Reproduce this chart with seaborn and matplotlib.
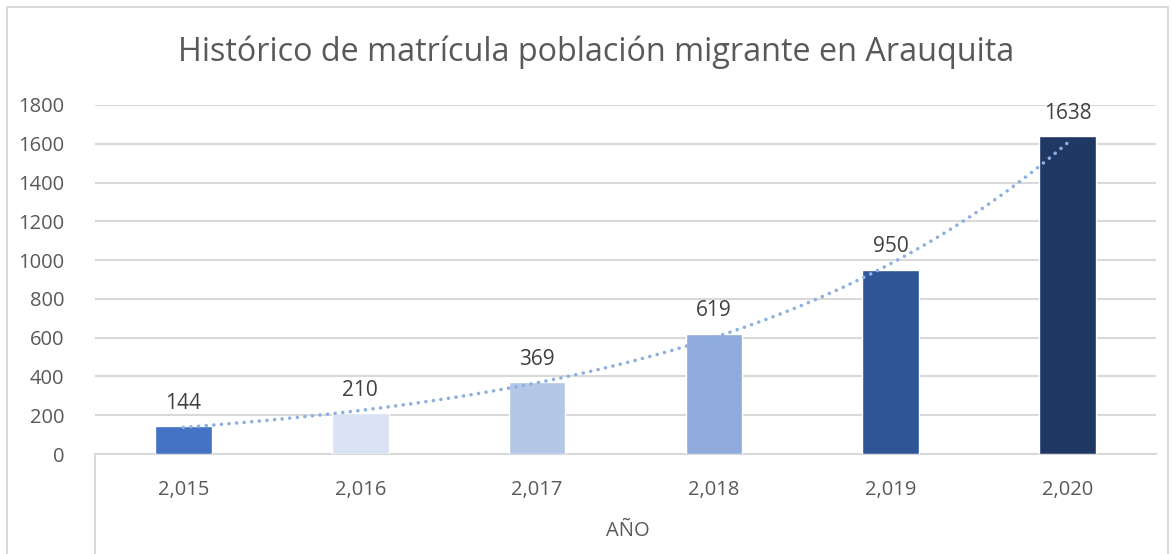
import numpy as np
import pandas as pd
import matplotlib
matplotlib.use("Agg")
import matplotlib.pyplot as plt
import seaborn as sns
from matplotlib.lines import Line2D

sns.set_style("white")
plt.rcParams['font.family'] = ['Open Sans', 'DejaVu Sans']

# data
years = ["2,015", "2,016", "2,017", "2,018", "2,019", "2,020"]
matricula = [144, 210, 369, 619, 950, 1638]
bar_colors = ["#4472C4", "#DAE3F3", "#B4C7E7", "#8FAADC", "#2F5597", "#203864"]

title = "Histórico de matrícula población migrante en Arauquita"
x_label = "AÑO"
y_ticks = list(range(0, 1801, 200))

df = pd.DataFrame({"year": years, "value": matricula})

W, H = 1172, 554
fig = plt.figure(figsize=(W / 100, H / 100), dpi=100)
ax = fig.add_axes([95 / W, 100 / H, (1156 - 95) / W, (454 - 105) / H])

sns.barplot(data=df, x="year", y="value", hue="year", palette=bar_colors,
            width=0.32, legend=False, ax=ax, saturation=1, zorder=3)

# exponential trendline (as in Excel)
xi = np.arange(1, len(matricula) + 1)
b, a = np.polyfit(xi, np.log(matricula), 1)
xs = np.linspace(1, len(matricula), 300)
ax.plot(xs - 1, np.exp(a + b * xs), linestyle=(0, (0.01, 2.1)), color="#8EB0DF",
        linewidth=2.6, dash_capstyle="round", solid_capstyle="round", zorder=4)

for i, v in enumerate(matricula):
    ax.annotate(str(v), (i, v), xytext=(0, 9), textcoords="offset points",
                ha="center", va="bottom", fontsize=15, color="#404040")

ax.set_ylim(0, 1800)
ax.set_xlim(-0.5, 5.5)
ax.set_yticks(y_ticks)
ax.yaxis.grid(True, color="#D9D9D9", linewidth=1.5, zorder=0)
ax.set_axisbelow(True)
for s in ["top", "right", "left"]:
    ax.spines[s].set_visible(False)
ax.spines["bottom"].set_color("#D9D9D9")
ax.spines["bottom"].set_linewidth(1.5)
ax.tick_params(axis="y", length=0, pad=22, labelsize=14.5, labelcolor="#595959")
ax.tick_params(axis="x", length=0, pad=19, labelsize=14.5, labelcolor="#595959")
ax.set_xlabel("")
ax.set_ylabel("")

fig.text(628 / W, 1 - 531 / H, x_label, ha="center", va="center",
         fontsize=14.5, color="#595959")
fig.text(596 / W, 1 - 52 / H, title, ha="center", va="center",
         fontsize=23.3, color="#595959")

# category axis divider and chart border
fig.add_artist(Line2D([95 / W, 95 / W], [100 / H, 0], color="#D9D9D9", linewidth=1.5))
fig.add_artist(Line2D([7 / W, 7 / W, 1168 / W, 1168 / W], [0, 1 - 7 / H, 1 - 7 / H, 0],
                      color="#D9D9D9", linewidth=1.5))

fig.savefig("out.png", dpi=100)
